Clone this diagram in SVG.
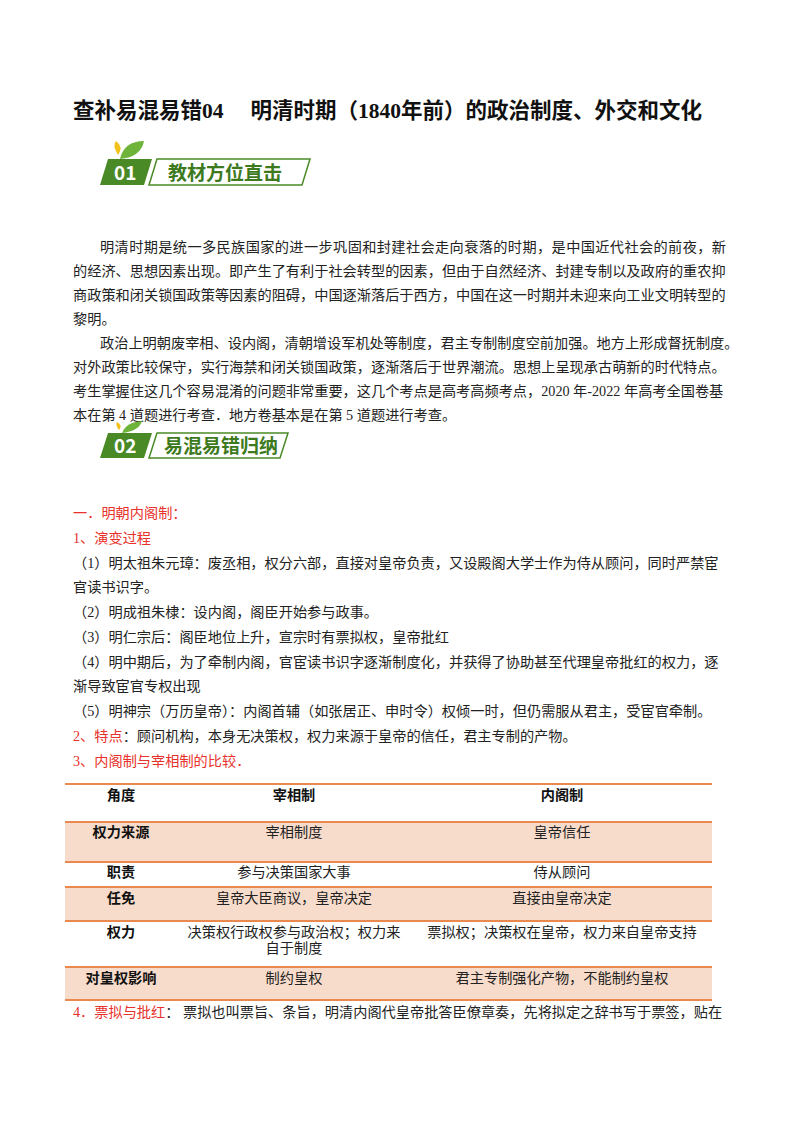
<svg xmlns="http://www.w3.org/2000/svg" width="800" height="1132" viewBox="0 0 800 1132">
<style>
text{font-family:"Liberation Serif","Noto Sans CJK SC",serif;font-size:14.2px;fill:#222}
.t{font-size:21.5px;font-weight:bold;fill:#111}
.r{fill:#e8312a}
.b{font-weight:bold;fill:#111}
.h{font-family:"Noto Sans CJK SC",sans-serif;font-size:19px;font-weight:bold;fill:#3d7a1e}
.n{font-family:"Noto Sans CJK SC",sans-serif;font-size:19px;font-weight:bold;fill:#fff}
.c{text-anchor:middle}
.ln{stroke:#e9894f;stroke-width:2}
.sh{fill:#f8dccb}
</style>
<rect width="800" height="1132" fill="#fff"/>
<text x="73" y="118" class="t">查补易混易错04　 明清时期（1840年前）的政治制度、外交和文化</text>
<g id="h1">
<polygon points="108,159 152,159 144,185 100,185" fill="#4a8a26"/>
<polygon points="157,159 310,159 302,185 149,185" fill="#fff" stroke="#4a8a26" stroke-width="1.5"/>
<path d="M120,159 Q124,141 144,141 Q141,157 120,159Z" fill="#6fb43a"/>
<path d="M118,155 Q112,145 116,141 Q124,147 118,155Z" fill="#f3c21a"/>
<text x="114" y="180" class="n">01</text>
<text x="168" y="180" class="h">教材方位直击</text>
</g>
<text x="100" y="252" textLength="626">明清时期是统一多民族国家的进一步巩固和封建社会走向衰落的时期，是中国近代社会的前夜，新</text>
<text x="73" y="276">的经济、思想因素出现。即产生了有利于社会转型的因素，但由于自然经济、封建专制以及政府的重农抑</text>
<text x="73" y="300">商政策和闭关锁国政策等因素的阻碍，中国逐渐落后于西方，中国在这一时期并未迎来向工业文明转型的</text>
<text x="73" y="324">黎明。</text>
<text x="100" y="348">政治上明朝废宰相、设内阁，清朝增设军机处等制度，君主专制制度空前加强。地方上形成督抚制度。</text>
<text x="73" y="372">对外政策比较保守，实行海禁和闭关锁国政策，逐渐落后于世界潮流。思想上呈现承古萌新的时代特点。</text>
<text x="73" y="396">考生掌握住这几个容易混淆的问题非常重要，这几个考点是高考高频考点，2020 年-2022 年高考全国卷基</text>
<text x="73" y="420">本在第 4 道题进行考查．地方卷基本是在第 5 道题进行考查。</text>
<g id="h2">
<polygon points="108,433 152,433 144,458 100,458" fill="#4a8a26"/>
<polygon points="157,433 288,433 280,458 149,458" fill="#fff" stroke="#4a8a26" stroke-width="1.5"/>
<path d="M122,433 Q126,422 142,421 Q139,431 122,433Z" fill="#6fb43a"/>
<path d="M119,430 Q115,425 117,422 Q123,425 119,430Z" fill="#f3c21a"/>
<text x="114" y="453" class="n">02</text>
<text x="164" y="453" class="h">易混易错归纳</text>
</g>
<text x="73" y="518" class="r">一．明朝内阁制：</text>
<text x="73" y="543" class="r">1、演变过程</text>
<text x="73" y="568">（1）明太祖朱元璋：废丞相，权分六部，直接对皇帝负责，又设殿阁大学士作为侍从顾问，同时严禁宦</text>
<text x="73" y="592">官读书识字。</text>
<text x="73" y="617">（2）明成祖朱棣：设内阁，阁臣开始参与政事。</text>
<text x="73" y="642">（3）明仁宗后：阁臣地位上升，宣宗时有票拟权，皇帝批红</text>
<text x="73" y="667">（4）明中期后，为了牵制内阁，官宦读书识字逐渐制度化，并获得了协助甚至代理皇帝批红的权力，逐</text>
<text x="73" y="691">渐导致宦官专权出现</text>
<text x="73" y="716">（5）明神宗（万历皇帝）：内阁首辅（如张居正、申时令）权倾一时，但仍需服从君主，受宦官牵制。</text>
<text x="73" y="741"><tspan class="r">2、特点</tspan>：顾问机构，本身无决策权，权力来源于皇帝的信任，君主专制的产物。</text>
<text x="73" y="766" class="r">3、内阁制与宰相制的比较．</text>
<g id="table">
<rect x="65" y="822" width="647" height="40" class="sh"/>
<rect x="65" y="887" width="647" height="34" class="sh"/>
<rect x="65" y="967" width="647" height="33" class="sh"/>
<g class="ln">
<line x1="65" y1="784" x2="712" y2="784"/><line x1="65" y1="822" x2="712" y2="822"/>
<line x1="65" y1="862" x2="712" y2="862"/><line x1="65" y1="887" x2="712" y2="887"/>
<line x1="65" y1="921" x2="712" y2="921"/><line x1="65" y1="967" x2="712" y2="967"/>
<line x1="65" y1="1000" x2="712" y2="1000"/>
</g>
<text x="121" y="800" class="b c">角度</text><text x="294" y="800" class="b c">宰相制</text><text x="562" y="800" class="b c">内阁制</text>
<text x="121" y="837" class="b c">权力来源</text><text x="294" y="837" class="c">宰相制度</text><text x="562" y="837" class="c">皇帝信任</text>
<text x="121" y="877" class="b c">职责</text><text x="294" y="877" class="c">参与决策国家大事</text><text x="562" y="877" class="c">侍从顾问</text>
<text x="121" y="903" class="b c">任免</text><text x="294" y="903" class="c">皇帝大臣商议，皇帝决定</text><text x="562" y="903" class="c">直接由皇帝决定</text>
<text x="121" y="937" class="b c">权力</text><text x="294" y="937" class="c">决策权行政权参与政治权；权力来</text><text x="294" y="953" class="c">自于制度</text><text x="562" y="937" class="c">票拟权；决策权在皇帝，权力来自皇帝支持</text>
<text x="121" y="983" class="b c">对皇权影响</text><text x="294" y="983" class="c">制约皇权</text><text x="562" y="983" class="c">君主专制强化产物，不能制约皇权</text>
</g>
<text x="73" y="1017"><tspan class="r">4．票拟与批红</tspan>：  票拟也叫票旨、条旨，明清内阁代皇帝批答臣僚章奏，先将拟定之辞书写于票签，贴在</text>
</svg>
